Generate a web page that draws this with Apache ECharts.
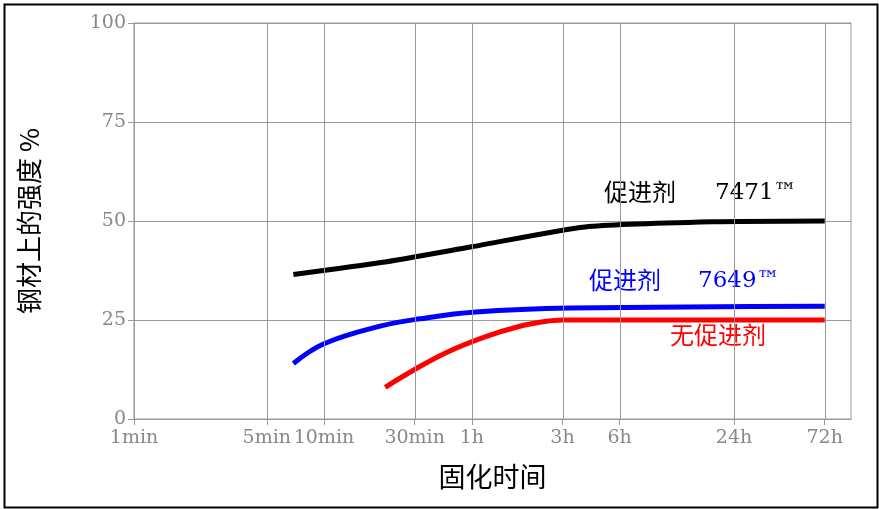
<!DOCTYPE html><html><head><meta charset="utf-8">
<script src="https://cdn.jsdelivr.net/npm/echarts@6/dist/echarts.min.js"></script>
<style>html,body{margin:0;padding:0;background:#fff}#c{width:879px;height:509px}</style></head><body><div id="c"></div>
<script>
const tickMinutes=[1,5,10,30,60,180,360,1440,4320];
const tickLabels=['1min','5min','10min','30min','1h','3h','6h','24h','72h'];
const black=[[6.9,36.5],[20,39.5],[60,43.5],[237,48.5],[1120,49.8],[4320,50]];
const blue=[[6.9,14],[10,19],[20,23.5],[32,25.3],[63,27],[200,28],[4320,28.5]];
const red=[[21,8],[30,12.5],[45,17],[71,20.8],[105,23.3],[145,24.6],[180,25],[4320,25]];
const L=v=>Math.log10(v);
const tv=tickMinutes.map(L);
const lab={}; tv.forEach((v,i)=>lab[v.toFixed(5)]=tickLabels[i]);
const conv=a=>a.map(p=>[L(p[0]),p[1]]);
const serif='DejaVu Serif, serif';
const cjk='Noto Sans CJK SC';
const chart=echarts.init(document.getElementById('c'));
chart.setOption({
 animation:false,
 grid:{left:134,right:28,top:23,bottom:90,show:true,borderColor:'#999',borderWidth:1},
 xAxis:{type:'value',min:0,max:L(5940),
  axisLine:{show:true,lineStyle:{color:'#999'}},
  axisTick:{show:true,customValues:tv,length:6,lineStyle:{color:'#999'}},
  splitLine:{show:false},
  axisLabel:{customValues:tv,formatter:v=>lab[v.toFixed(5)]||'',color:'#888',fontFamily:serif,fontSize:19,margin:10},
  name:'固化时间',nameLocation:'middle',nameGap:44,nameTextStyle:{fontFamily:cjk,fontSize:27,color:'#000'}},
 yAxis:{type:'value',min:0,max:100,interval:25,
  axisLine:{show:true,lineStyle:{color:'#999'}},
  axisTick:{show:true,length:6,lineStyle:{color:'#999'}},
  splitLine:{lineStyle:{color:'#999'}},
  axisLabel:{color:'#888',fontFamily:serif,fontSize:19,margin:8},
  name:'钢材上的强度 %',nameLocation:'middle',nameGap:92,nameTextStyle:{fontFamily:cjk,fontSize:26,color:'#000'}},
 series:[
  {type:'line',data:conv(black),smooth:0.2,showSymbol:false,lineStyle:{color:'#000',width:5},
   markLine:{silent:true,symbol:'none',label:{show:false},lineStyle:{color:'#999',width:1,type:'solid'},data:tv.slice(1).map(v=>({xAxis:v}))}},
  {type:'line',data:conv(blue),smooth:0.4,showSymbol:false,lineStyle:{color:'#0000ff',width:5}},
  {type:'line',data:conv(red),smooth:0.4,showSymbol:false,lineStyle:{color:'#ff0000',width:5}}
 ],
 graphic:[
  {type:'rect',left:2,top:2,shape:{width:873,height:503},style:{fill:'none',stroke:'#000',lineWidth:2}},
  {type:'text',left:604,top:180,style:{text:'促进剂',fontFamily:cjk,fontSize:24,fill:'#000'}},
  {type:'text',left:715,top:182,style:{text:'7471™',fontFamily:serif,fontSize:23,fill:'#000'}},
  {type:'text',left:589,top:268,style:{text:'促进剂',fontFamily:cjk,fontSize:24,fill:'#0000ff'}},
  {type:'text',left:698,top:270,style:{text:'7649™',fontFamily:serif,fontSize:23,fill:'#0000ff'}},
  {type:'text',left:670,top:323,style:{text:'无促进剂',fontFamily:cjk,fontSize:24,fill:'#ff0000'}}
 ]
});
</script></body></html>
